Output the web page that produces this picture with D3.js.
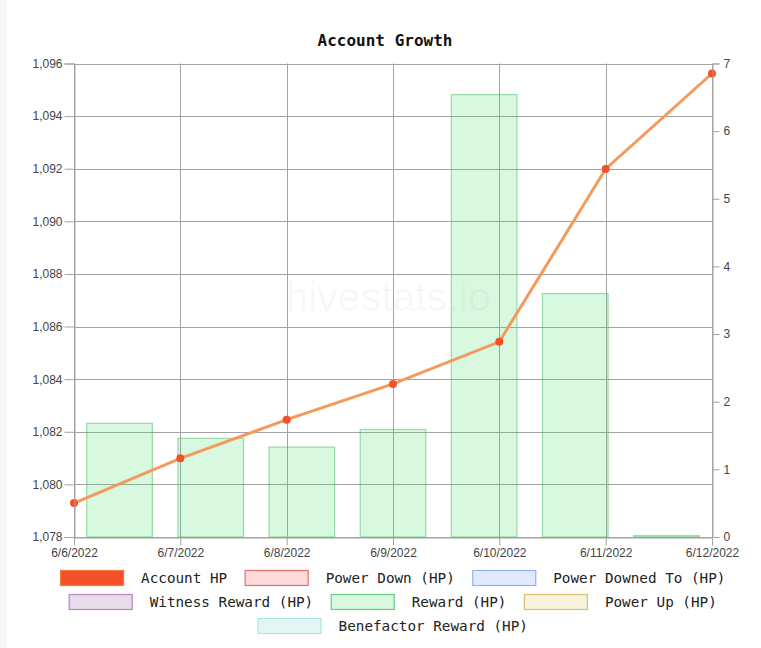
<!DOCTYPE html>
<html lang="en">
<head>
    <meta charset="UTF-8">
    <title>Account Growth</title>
    <script src="https://cdn.jsdelivr.net/npm/d3@7"></script>
    <style>
        body {
            margin: 0;
            background: #fff;
        }
        #strip {
            position: absolute;
            left: 0;
            top: 0;
            width: 7px;
            height: 648px;
            background: #f6f6f6;
        }
        #chart {
            position: absolute;
            left: 0;
            top: 0;
        }
        .tick text {
            font-family: "Liberation Sans", Arial, sans-serif;
            font-size: 12px;
            fill: #444;
        }
    </style>
</head>
<body>
<div id="strip"></div>
<div id="chart"></div>
<script type="text/javascript">
    var dates = ["6/6/2022", "6/7/2022", "6/8/2022", "6/9/2022", "6/10/2022", "6/11/2022", "6/12/2022"];
    var accountHP = [1079.29, 1080.99, 1082.46, 1083.82, 1085.42, 1091.99, 1095.62];
    var rewardHP = [1.68, 1.46, 1.33, 1.59, 6.54, 3.60, 0.02];
    var leftTicks = [1078, 1080, 1082, 1084, 1086, 1088, 1090, 1092, 1094, 1096];
    var rightTicks = [0, 1, 2, 3, 4, 5, 6, 7];
    var legendNames = ["Account HP", "Power Down (HP)", "Power Downed To (HP)",
        "Witness Reward (HP)", "Reward (HP)", "Power Up (HP)", "Benefactor Reward (HP)"];
    var legendFill = ["#f4502a", "#ffdadb", "#e1eafd", "#e9dcea", "#d8f8e0", "#f7f3dc", "#e3f6f4"];
    var legendStroke = ["#f07a3a", "#e26d6d", "#8db4f2", "#b583c0", "#6ccb83", "#d6c06e", "#a3e9e1"];

    var W = 761, H = 648;
    var pl = 74, pr = 712, pt = 63.5, pb = 537;

    var svg = d3.select("#chart")
        .append('svg')
        .attr('width', W)
        .attr('height', H);

    var x_scale = d3.scalePoint().domain(dates).range([pl, pr]);
    var band = d3.scaleBand().domain(dates).range([pl, pr]);
    var yl = d3.scaleLinear().domain([1078, 1096]).range([pb, pt]);
    var yr = d3.scaleLinear().domain([0, 7]).range([pb, pt]);

    // grid
    var grid = svg.append('g').attr('stroke', '#a3a3a3').attr('stroke-width', 1);
    grid.selectAll('.hg').data(leftTicks).enter().append('line')
        .attr('x1', pl).attr('x2', pr)
        .attr('y1', function (d) { return Math.round(yl(d)) + 0.5; })
        .attr('y2', function (d) { return Math.round(yl(d)) + 0.5; });
    grid.selectAll('.vg').data(dates).enter().append('line')
        .attr('y1', pt).attr('y2', pb)
        .attr('x1', function (d) { return Math.round(x_scale(d)) + 0.5; })
        .attr('x2', function (d) { return Math.round(x_scale(d)) + 0.5; });

    // watermark
    svg.append('text')
        .attr('x', 388).attr('y', 311)
        .attr('text-anchor', 'middle')
        .attr('font-family', '"Liberation Sans", Arial, sans-serif')
        .attr('font-size', 41)
        .attr('fill', 'rgba(0,0,0,0.04)')
        .text('hivestats.io');

    // bars
    var bw = band.bandwidth() * 0.72;
    svg.selectAll('rect.bar')
        .data(rewardHP)
        .enter()
        .append('rect')
        .attr('class', 'bar')
        .attr('x', function (d, i) { return band(dates[i]) + (band.bandwidth() - bw) / 2; })
        .attr('y', function (d) { return yr(d); })
        .attr('width', bw)
        .attr('height', function (d) { return pb - yr(d); })
        .attr('fill', 'rgba(60,220,100,0.2)')
        .attr('stroke', 'rgba(50,180,80,0.45)')
        .attr('stroke-width', 1.2);

    // line
    var line = d3.line()
        .x(function (d, i) { return x_scale(dates[i]); })
        .y(function (d) { return yl(d); });
    svg.append('path')
        .datum(accountHP)
        .attr('d', line)
        .attr('fill', 'none')
        .attr('stroke', '#f39a5c')
        .attr('stroke-width', 3);
    svg.selectAll('circle')
        .data(accountHP)
        .enter()
        .append('circle')
        .attr('cx', function (d, i) { return x_scale(dates[i]); })
        .attr('cy', function (d) { return yl(d); })
        .attr('r', 4)
        .attr('fill', '#f4502a');

    // axes
    var axL = d3.axisLeft(yl).tickValues(leftTicks).tickFormat(d3.format(',')).tickSize(10).tickPadding(2);
    var axR = d3.axisRight(yr).tickValues(rightTicks).tickFormat(d3.format('d')).tickSize(7).tickPadding(4);
    var axB = d3.axisBottom(x_scale).tickSize(8).tickPadding(3);
    [svg.append('g').attr('transform', 'translate(' + (pl + 0.5) + ',0)').call(axL),
        svg.append('g').attr('transform', 'translate(' + (pr + 0.5) + ',0)').call(axR),
        svg.append('g').attr('transform', 'translate(0,' + (pb + 0.5) + ')').call(axB)
    ].forEach(function (g) {
        g.selectAll('line').attr('stroke', '#a3a3a3');
        g.select('.domain').attr('stroke', '#a3a3a3');
    });

    // title
    svg.append('text')
        .attr('x', 385).attr('y', 46)
        .attr('text-anchor', 'middle')
        .attr('font-family', '"DejaVu Sans Mono", monospace')
        .attr('font-weight', 'bold')
        .attr('font-size', 16)
        .attr('fill', '#111')
        .text('Account Growth');

    // legend
    var rows = [[0, 1, 2], [3, 4, 5], [6]];
    var lg = svg.append('g');
    rows.forEach(function (row, r) {
        var y = 570.5 + r * 24;
        var items = row.map(function (k) {
            var t = lg.append('text')
                .attr('font-family', '"DejaVu Sans Mono", monospace')
                .attr('font-size', 14.3)
                .attr('fill', '#222')
                .attr('y', y + 12)
                .text(legendNames[k]);
            return {k: k, t: t, w: t.node().getComputedTextLength()};
        });
        var total = d3.sum(items, function (d) { return 64 + 16.5 + d.w; }) + 18 * (items.length - 1);
        var x = 393 - total / 2;
        items.forEach(function (d) {
            lg.append('rect')
                .attr('x', x).attr('y', y)
                .attr('width', 63).attr('height', 15)
                .attr('fill', legendFill[d.k])
                .attr('stroke', legendStroke[d.k])
                .attr('stroke-width', 1.2);
            d.t.attr('x', x + 80.5);
            x += 80.5 + d.w + 18;
        });
    });
</script>
</body>
</html>
